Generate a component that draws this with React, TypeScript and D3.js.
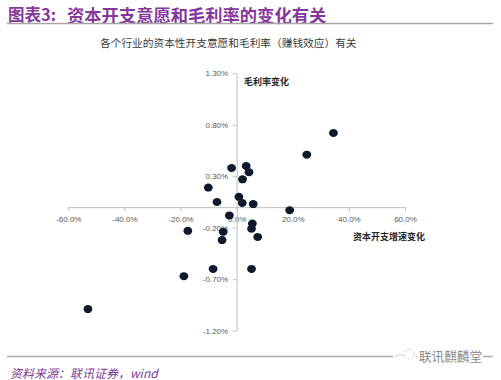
import React, { useEffect, useRef } from "react";
import * as d3 from "d3";

const capexChange = [-1.8, 3.4, 4.4, 2.1, -10.1, 0.8, -7.0, 2.0, 5.9, 18.9, 25.0, 34.5, -2.6, 5.6, -17.4, -4.8, 5.3, 7.5, -5.2, -8.4, 5.3, -18.8, -53.0];
const marginChange = [0.38, 0.40, 0.34, 0.27, 0.19, 0.10, 0.05, 0.04, 0.03, -0.03, 0.51, 0.72, -0.08, -0.16, -0.23, -0.24, -0.21, -0.29, -0.32, -0.60, -0.60, -0.67, -0.99];
const xTicks = [-60, -40, -20, 0, 20, 40, 60];
const yTicks = [1.3, 0.8, 0.3, -0.2, -0.7, -1.2];

const W = 501;
const H = 380;
const CJK = "'Noto Sans CJK SC', 'Noto Sans', sans-serif";
const LAT = "'Liberation Sans', Arial, sans-serif";

export default function App() {
  const xAxisRef = useRef<SVGGElement>(null);
  const yAxisRef = useRef<SVGGElement>(null);

  const x = d3.scaleLinear().domain([-60, 60]).range([68.3, 405]);
  const y = d3.scaleLinear().domain([-1.2, 1.3]).range([330.7, 73.3]);

  useEffect(() => {
    const style = (g: d3.Selection<SVGGElement, unknown, null, undefined>) => {
      g.select(".domain").attr("stroke", "#bfbfbf").attr("stroke-width", 1);
      g.selectAll(".tick line").attr("stroke", "#bfbfbf");
      g.selectAll(".tick text")
        .attr("fill", "#595959")
        .style("font-family", LAT)
        .style("font-size", "8px");
    };
    if (xAxisRef.current) {
      const g = d3.select(xAxisRef.current);
      g.call(
        d3
          .axisBottom(x)
          .tickValues(xTicks)
          .tickSize(4)
          .tickSizeOuter(0)
          .tickPadding(5)
          .tickFormat((d) => `${(d as number).toFixed(1)}%`)
      );
      style(g);
    }
    if (yAxisRef.current) {
      const g = d3.select(yAxisRef.current);
      g.call(
        d3
          .axisLeft(y)
          .tickValues(yTicks)
          .tickSize(4)
          .tickSizeOuter(0)
          .tickPadding(4.5)
          .tickFormat((d) => `${(d as number).toFixed(2)}%`)
      );
      style(g);
    }
  }, []);

  return (
    <div style={{ position: "absolute", left: 0, top: 0 }}>
      <svg width={W} height={H} style={{ display: "block", background: "#fff" }}>
        <rect x={0} y={0} width={W} height={H} fill="#ffffff" />
        {/* header */}
        <text x={8} y={14} dominantBaseline="central" fill="#85389a" fontFamily={CJK} fontWeight={700} fontSize={16.5}>
          图表3:
        </text>
        <text x={67} y={14} dominantBaseline="central" fill="#85389a" fontFamily={CJK} fontWeight={700} fontSize={17.3}>
          资本开支意愿和毛利率的变化有关
        </text>
        <line x1={7} x2={493} y1={23.5} y2={23.5} stroke="#a6a6a6" strokeWidth={1.5} />
        {/* subtitle */}
        <text x={100} y={42} dominantBaseline="central" fill="#3a3a3a" fontFamily={CJK} fontSize={10.7}>
          各个行业的资本性开支意愿和毛利率（赚钱效应）有关
        </text>

        {/* axes */}
        <g ref={xAxisRef} transform={`translate(0,${y(0)})`} />
        <g ref={yAxisRef} transform={`translate(${x(0)},0)`} />

        {/* axis titles */}
        <text x={244} y={81} dominantBaseline="central" fill="#262626" fontFamily={CJK} fontWeight={700} fontSize={9}>
          毛利率变化
        </text>
        <text x={353} y={236} dominantBaseline="central" fill="#262626" fontFamily={CJK} fontWeight={700} fontSize={9}>
          资本开支增速变化
        </text>

        {/* points */}
        <g>
          {capexChange.map((v, i) => (
            <ellipse key={i} cx={x(v)} cy={y(marginChange[i])} rx={4.4} ry={4} fill="#0e1a2c" />
          ))}
        </g>

        {/* footer */}
        <line x1={7} x2={393} y1={356.5} y2={356.5} stroke="#aaaaaa" strokeWidth={1.5} />
        <line x1={483} x2={493} y1={356.5} y2={356.5} stroke="#aaaaaa" strokeWidth={1.5} />
        <g stroke="#c8c8c8" fill="none" strokeWidth={0.9}>
          <path d="M395,357 Q400,353 404,356" />
          <circle cx={409} cy={354} r={5} strokeDasharray="2,1.5" />
          <line x1={415} x2={418} y1={356.5} y2={356.5} />
        </g>
        <text x={419} y={355} dominantBaseline="central" fill="#8a8a8a" fontFamily={CJK} fontSize={12.6}>
          联讯麒麟堂
        </text>
        <text x={10} y={372} dominantBaseline="central" fill="#7b3a90" fontFamily={CJK} fontStyle="italic" fontSize={12}>
          资料来源：联讯证券，wind
        </text>
      </svg>
    </div>
  );
}
